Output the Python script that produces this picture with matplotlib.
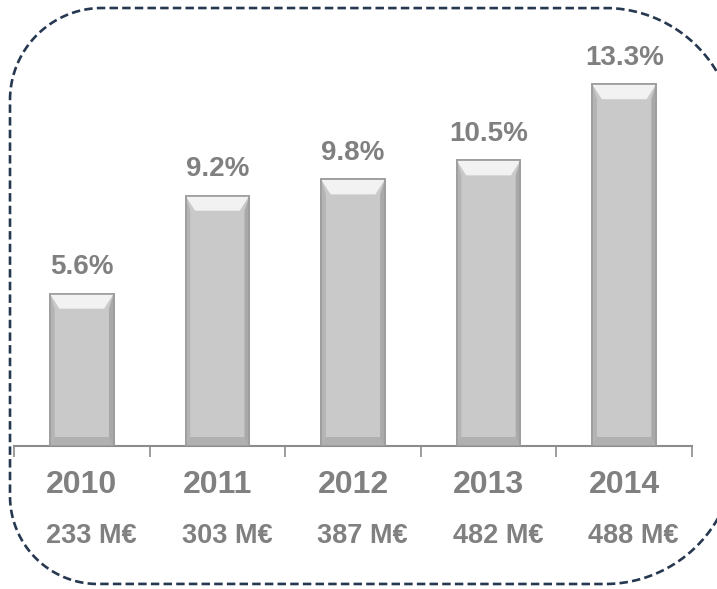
import matplotlib
matplotlib.use("Agg")
import numpy as np
import matplotlib.pyplot as plt
from matplotlib.patches import Polygon

# data
years = ["2010", "2011", "2012", "2013", "2014"]
shares = [5.6, 9.2, 9.8, 10.5, 13.3]
share_labels = ["5.6%", "9.2%", "9.8%", "10.5%", "13.3%"]
revenue_labels = ["233 M€", "303 M€", "387 M€", "482 M€", "488 M€"]

text_grey = "#808080"
axis_grey = "#8c8c8c"
border_col = "#263850"

plt.rcParams['font.family'] = ['Liberation Sans', 'DejaVu Sans']

fig = plt.figure(figsize=(7.17, 5.89), dpi=100)

# dashed rounded frame in pixel-like coordinates, corners with their own radius
bg = fig.add_axes([0, 0, 1, 1])
bg.set_xlim(0, 717)
bg.set_ylim(589, 0)
bg.axis("off")


def corner(cx, cy, r, a0, a1):
    t = np.radians(np.linspace(a0, a1, 40))
    return list(zip(cx + r * np.cos(t), cy + r * np.sin(t)))


L, T, R, B = 10, 8, 735, 584
r_tl, r_tr, r_br, r_bl = 92, 130, 130, 88
pts = []
pts += corner(L + r_tl, T + r_tl, r_tl, 180, 270)
pts += corner(R - r_tr, T + r_tr, r_tr, 270, 360)
pts += corner(R - r_br, B - r_br, r_br, 0, 90)
pts += corner(L + r_bl, B - r_bl, r_bl, 90, 180)
pts.append(pts[0])
px, py = zip(*pts)
bg.plot(px, py, color=border_col, linewidth=1.9, linestyle=(0, (3.2, 1.6)))

ax = fig.add_axes([14 / 717, 1 - 446 / 589, (692 - 14) / 717, 446 / 589])
ax.patch.set_alpha(0)
x = list(range(len(years)))
width = 0.47
ax.set_xlim(-0.5, len(years) - 0.5)
ax.set_ylim(0, 446 / 27.2)

ax.bar(x, shares, width=width, color="#c9c9c9", edgecolor="#9c9c9c",
       linewidth=1.2, zorder=2)

# bevel effect built from each bar's position and height
bx = 0.07      # bevel width in data units (x)
by = 0.55      # bevel height in data units (y)
for xi, v in zip(x, shares):
    l, r = xi - width / 2, xi + width / 2
    top = Polygon([(l, v), (r, v), (r - bx, v - by), (l + bx, v - by)],
                  closed=True, facecolor="#f2f2f2", edgecolor="none", zorder=3)
    left = Polygon([(l, v), (l + bx * 0.5, v - by), (l + bx * 0.5, 0), (l, 0)],
                   closed=True, facecolor="#b4b4b4", edgecolor="none", zorder=3)
    right = Polygon([(r, v), (r - bx * 0.5, v - by), (r - bx * 0.5, 0), (r, 0)],
                    closed=True, facecolor="#a9a9a9", edgecolor="none", zorder=3)
    bottom = Polygon([(l, 0), (r, 0), (r - bx * 0.5, by * 0.6), (l + bx * 0.5, by * 0.6)],
                     closed=True, facecolor="#b0b0b0", edgecolor="none", zorder=3)
    for p in (top, left, right, bottom):
        ax.add_patch(p)
    ax.bar(xi, v, width=width, color="none", edgecolor="#9c9c9c", linewidth=1.2, zorder=4)

for xi, v, lab in zip(x, shares, share_labels):
    ax.annotate(lab, (xi, v), xytext=(0, 19), textcoords="offset points",
                ha="center", va="center", fontsize=20, fontweight="bold",
                color=text_grey)

for xi, yr, rev in zip(x, years, revenue_labels):
    ax.annotate(yr, (xi, 0), xytext=(0, -28), textcoords="offset points",
                ha="center", va="center", fontsize=23, fontweight="bold",
                color=text_grey, annotation_clip=False)
    ax.annotate(rev, (xi + 0.07, 0), xytext=(0, -65), textcoords="offset points",
                ha="center", va="center", fontsize=19.5, fontweight="bold",
                color=text_grey, annotation_clip=False)

for s in ["top", "left", "right"]:
    ax.spines[s].set_visible(False)
ax.spines["bottom"].set_color(axis_grey)
ax.spines["bottom"].set_linewidth(1.5)
ax.set_yticks([])
ax.set_xticks([i - 0.5 for i in range(len(years) + 1)])
ax.set_xticklabels([])
ax.tick_params(axis="x", direction="out", length=8, width=1.2, color=axis_grey)

fig.savefig("out.png", dpi=100)
